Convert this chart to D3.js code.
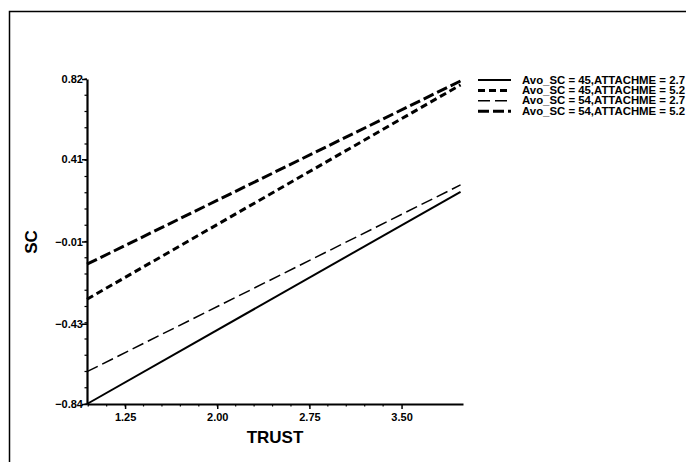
<!DOCTYPE html>
<html>
<head>
<meta charset="utf-8">
<script src="https://cdn.jsdelivr.net/npm/d3@7"></script>
<style>
  body { margin: 0; background: #fff; }
  text { font-family: "Liberation Sans", Arial, sans-serif; font-weight: bold; fill: #000; }
</style>
</head>
<body>
<div id="chart"></div>
<script>
// series: regression lines of SC on TRUST
const seriesNames = [
  'Avo_SC = 45,ATTACHME = 2.7',
  'Avo_SC = 45,ATTACHME = 5.2',
  'Avo_SC = 54,ATTACHME = 2.7',
  'Avo_SC = 54,ATTACHME = 5.2'
];
const trustRange = [0.94, 3.98];
const scStart = [-0.84, -0.305, -0.675, -0.126];
const scEnd = [0.244, 0.79, 0.279, 0.81];
const xTicks = [1.25, 2.00, 2.75, 3.50];
const yTicks = [-0.84, -0.43, -0.01, 0.41, 0.82];

const styles = [
  { dash: null, w: 2 },
  { dash: '7,4', w: 3 },
  { dash: '12,5', w: 1.5 },
  { dash: '11,4', w: 3 }
];

const width = 686, height = 462;
const margin = { top: 79, right: 223, bottom: 58, left: 87 };

const svg = d3.select('#chart').append('svg')
  .attr('width', width)
  .attr('height', height);

// outer frame (left + top edges visible)
svg.append('path')
  .attr('d', 'M9.5,' + height + 'V11.5H' + width)
  .attr('fill', 'none')
  .attr('stroke', '#000')
  .attr('stroke-width', 1.5);

const x = d3.scaleLinear()
  .domain([0.94, 4.0])
  .range([margin.left, width - margin.right]);
const y = d3.scaleLinear()
  .domain([-0.84, 0.82])
  .range([height - margin.bottom, margin.top]);

const g = svg.append('g');

// minor ticks
const xMinor = d3.range(0, 17).map(i => 1.25 + (i - 2) * 0.15).filter(v => v >= 0.94 && v <= 4.0);
g.selectAll('.xminor').data(xMinor).enter().append('line')
  .attr('x1', d => x(d)).attr('x2', d => x(d))
  .attr('y1', y(-0.84)).attr('y2', y(-0.84) + 2.5)
  .attr('stroke', '#000').attr('stroke-width', 1.2);

const yMinor = d3.range(0, 21).map(i => -0.84 + i * 0.083);
g.selectAll('.yminor').data(yMinor).enter().append('line')
  .attr('x1', x(0.94) - 2.5).attr('x2', x(0.94))
  .attr('y1', d => y(d)).attr('y2', d => y(d))
  .attr('stroke', '#000').attr('stroke-width', 1.2);

const xAxis = g.append('g')
  .attr('transform', 'translate(0,' + y(-0.84) + ')')
  .call(d3.axisBottom(x).tickValues(xTicks).tickFormat(d3.format('.2f')).tickSize(5).tickSizeOuter(0));
const yAxis = g.append('g')
  .attr('transform', 'translate(' + x(0.94) + ',0)')
  .call(d3.axisLeft(y).tickValues(yTicks).tickFormat(d3.format('.2f')).tickSize(5).tickSizeOuter(0));

[xAxis, yAxis].forEach(a => {
  a.select('.domain').attr('stroke-width', 2.2);
  a.selectAll('.tick line').attr('stroke-width', 1.5);
  a.selectAll('.tick text')
    .attr('fill', '#000')
    .style('font-family', '"Liberation Sans", Arial, sans-serif')
    .style('font-weight', 'bold')
    .style('font-size', '11px');
});
xAxis.selectAll('.tick text').attr('dy', '0.85em');
yAxis.selectAll('.tick text').attr('x', -4);

// axis titles
svg.append('text')
  .attr('x', 275).attr('y', 443)
  .attr('text-anchor', 'middle')
  .style('font-size', '17px')
  .text('TRUST');
svg.append('text')
  .attr('transform', 'translate(37,242) rotate(-90)')
  .attr('text-anchor', 'middle')
  .style('font-size', '17px')
  .text('SC');

// lines
const lineData = seriesNames.map((n, i) => ({
  name: n, style: styles[i],
  pts: [[trustRange[0], scStart[i]], [trustRange[1], scEnd[i]]]
}));
const line = d3.line().x(d => x(d[0])).y(d => y(d[1]));
g.selectAll('.series').data(lineData).enter().append('path')
  .attr('d', d => line(d.pts))
  .attr('fill', 'none')
  .attr('stroke', '#000')
  .attr('stroke-width', d => d.style.w)
  .attr('stroke-dasharray', d => d.style.dash);

// legend
const legend = svg.append('g').attr('transform', 'translate(478,80)');
const items = legend.selectAll('g').data(lineData).enter().append('g')
  .attr('transform', (d, i) => 'translate(0,' + (i * 10.4) + ')');
items.append('line')
  .attr('x1', 0).attr('x2', 33)
  .attr('stroke', '#000')
  .attr('stroke-width', d => d.style.w)
  .attr('stroke-dasharray', d => d.style.dash);
items.append('text')
  .attr('x', 44).attr('dy', '0.35em')
  .attr('textLength', 163)
  .attr('lengthAdjust', 'spacingAndGlyphs')
  .style('font-size', '10px')
  .text(d => d.name);
</script>
</body>
</html>
